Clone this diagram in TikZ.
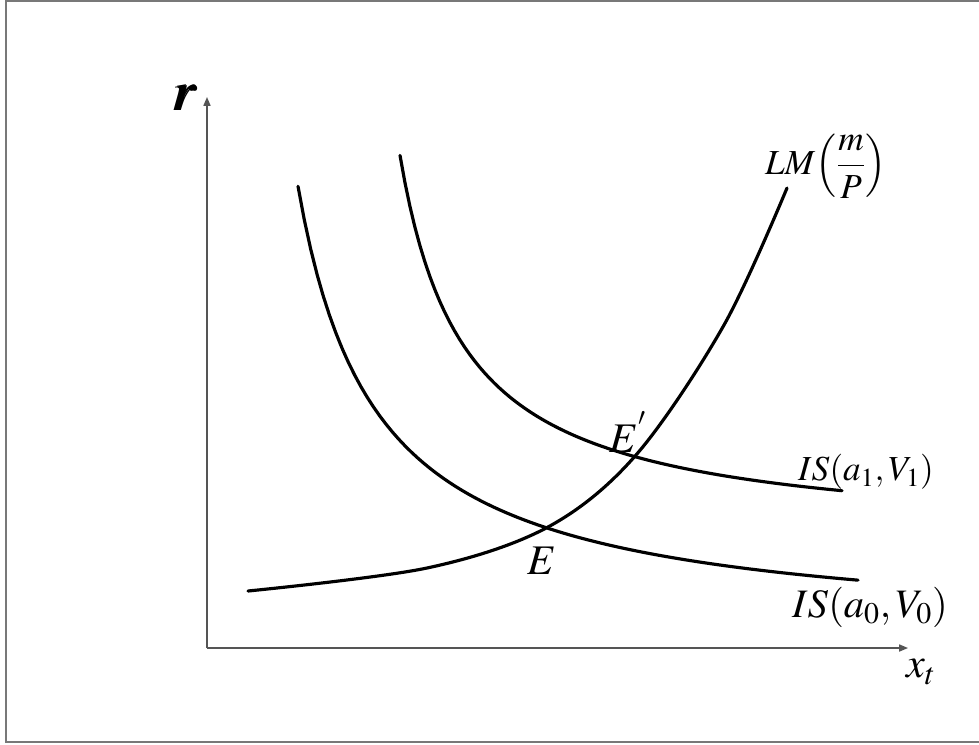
\documentclass[tikz,border=0pt]{standalone}
\usepackage{amsmath}
\usepackage{amssymb}
\usepackage{mathptmx}
\usepackage{tikz}
\usetikzlibrary{arrows.meta}
\definecolor{framegray}{RGB}{120,120,120}
\definecolor{axisgray}{RGB}{85,85,85}

\begin{document}
\begin{tikzpicture}[x=0.02cm, y=-0.02cm,
    axis/.style={draw=axisgray, line width=0.8pt, -{Triangle[length=5pt,width=4pt]}},
    curve/.style={line width=1.8pt, line cap=round},
    lbl/.style={inner sep=0pt}]
    \useasboundingbox (0,0) rectangle (979,744);

    % frame
    \draw[framegray, line width=1.2pt] (979,1) -- (6,1) -- (6,742) -- (979,742);

    % axes
    \coordinate (o) at (207,648);
    \coordinate (ytop) at (207,97);
    \coordinate (xend) at (908,648);
    \draw[axis] (o) -- (ytop);
    \draw[axis] (o) -- (xend);
    \node[lbl, font=\fontsize{32}{34}\selectfont] (rlab) at (186,98) {$\pmb{r}$};
    \node[lbl, font=\fontsize{24}{26}\selectfont] (xlab) at (921,672) {$x_t$};

    % IS curves
    \draw[curve, domain=298:858, samples=90] plot (\x, {635 - 350/((\x-220)/100)});
    \draw[curve, domain=400:842, samples=90] plot (\x, {540 - 250/((\x-335)/100)});

    % LM curve
    \draw[curve] plot[smooth, tension=0.55] coordinates {(248,591) (427,568) (548,527) (636,455) (724,325) (787,188)};

    % equilibria
    \coordinate (E) at (548,527);
    \coordinate (E1) at (636,455);
    \node[lbl, font=\fontsize{24}{26}\selectfont] (elab) at (542,561) {$E$};
    \node[lbl, font=\fontsize{24}{26}\selectfont] (e1lab) at (628,432) {$E^{'}$};

    % labels
    \node[lbl, font=\fontsize{20}{22}\selectfont] (lmlab) at (826,166) {$LM\!\left(\dfrac{m}{P}\right)$};
    \node[lbl, font=\fontsize{20}{22}\selectfont] (is1lab) at (866,472) {$IS(a_1,V_1)$};
    \node[lbl, font=\fontsize{23}{25}\selectfont] (is0lab) at (870,607) {$IS(a_0,V_0)$};
\end{tikzpicture}
\end{document}
